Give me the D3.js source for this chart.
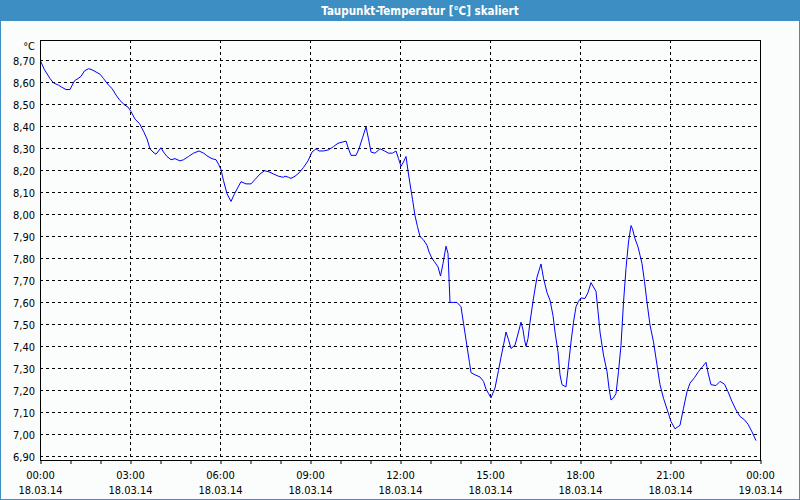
<!DOCTYPE html>
<html>
<head>
<meta charset="utf-8">
<script src="https://cdn.jsdelivr.net/npm/d3@7"></script>
<style>
  body { margin: 0; background: #fbfdfc; }
  text { font-family: "DejaVu Sans Condensed", "DejaVu Sans", sans-serif; }
</style>
</head>
<body>
<div id="chart"></div>
<script>
/* chart data, minutes since 00:00 on 18.03.14 and dew point in °C */
const minutes = [
    0, 8, 19, 26, 36, 43, 51, 59, 68, 75, 81, 88, 96, 103, 111, 119, 126, 136, 143, 151,
    159, 168, 175, 181, 189, 198, 206, 213, 219, 225, 231, 236, 241, 246, 253, 261, 269, 279, 286, 296,
    306, 317, 326, 335, 343, 351, 356, 361, 366, 373, 381, 388, 395, 401, 411, 421, 429, 439, 448, 457,
    466, 476, 486, 489, 496, 501, 509, 517, 526, 535, 543, 551, 557, 566, 576, 586, 595, 603, 611, 616,
    621, 631, 637, 644, 651, 656, 661, 669, 679, 688, 696, 704, 711, 716, 721, 726, 731, 735, 739, 744,
    749, 754, 759, 766, 773, 777, 783, 788, 795, 800, 805, 811, 815, 819, 826, 833, 841, 846, 853, 858,
    861, 869, 879, 886, 891, 896, 901, 909, 916, 921, 926, 931, 936, 941, 949, 956, 961, 965, 968, 971,
    975, 979, 986, 993, 1001, 1006, 1013, 1019, 1025, 1029, 1035, 1039, 1043, 1051, 1056, 1061, 1066, 1071, 1076, 1081,
    1089, 1095, 1101, 1106, 1111, 1115, 1119, 1126, 1133, 1137, 1141, 1146, 1151, 1156, 1161, 1166, 1171, 1176, 1181, 1184,
    1189, 1195, 1199, 1203, 1208, 1213, 1219, 1226, 1233, 1239, 1246, 1255, 1261, 1269, 1279, 1286, 1293, 1299, 1308, 1316,
    1324, 1331, 1336, 1341, 1351, 1359, 1368, 1375, 1383, 1391, 1399, 1408, 1415, 1423, 1431
];
const dewPoint = [
    8.70, 8.66, 8.62, 8.60, 8.59, 8.58, 8.57, 8.57, 8.61, 8.62, 8.63, 8.655, 8.665, 8.66, 8.65, 8.64, 8.62, 8.59, 8.575, 8.545,
    8.52, 8.50, 8.49, 8.47, 8.435, 8.415, 8.38, 8.345, 8.30, 8.285, 8.275, 8.29, 8.305, 8.285, 8.265, 8.25, 8.255, 8.245, 8.25, 8.265,
    8.28, 8.29, 8.28, 8.265, 8.255, 8.25, 8.23, 8.205, 8.155, 8.095, 8.06, 8.095, 8.125, 8.15, 8.14, 8.14, 8.16, 8.185, 8.20, 8.195,
    8.185, 8.175, 8.17, 8.175, 8.17, 8.165, 8.175, 8.19, 8.215, 8.245, 8.285, 8.30, 8.29, 8.29, 8.295, 8.31, 8.325, 8.33, 8.335, 8.30,
    8.27, 8.27, 8.30, 8.35, 8.40, 8.345, 8.285, 8.28, 8.30, 8.29, 8.28, 8.28, 8.29, 8.255, 8.22, 8.24, 8.265, 8.20, 8.14, 8.07,
    7.995, 7.945, 7.90, 7.885, 7.86, 7.83, 7.80, 7.785, 7.762, 7.72, 7.777, 7.856, 7.823, 7.60, 7.60, 7.60, 7.58, 7.505, 7.40, 7.325,
    7.28, 7.27, 7.26, 7.24, 7.205, 7.185, 7.165, 7.21, 7.29, 7.35, 7.405, 7.465, 7.43, 7.39, 7.405, 7.465, 7.51, 7.475, 7.43, 7.40,
    7.435, 7.51, 7.62, 7.715, 7.775, 7.71, 7.645, 7.61, 7.54, 7.465, 7.375, 7.27, 7.225, 7.215, 7.315, 7.42, 7.51, 7.58, 7.605, 7.62,
    7.618, 7.645, 7.69, 7.67, 7.65, 7.56, 7.465, 7.36, 7.285, 7.21, 7.155, 7.165, 7.185, 7.285, 7.405, 7.60, 7.755, 7.875, 7.95, 7.935,
    7.89, 7.853, 7.815, 7.777, 7.695, 7.60, 7.497, 7.42, 7.315, 7.225, 7.163, 7.10, 7.057, 7.024, 7.04, 7.118, 7.193, 7.232, 7.257, 7.285,
    7.307, 7.327, 7.27, 7.225, 7.221, 7.24, 7.227, 7.193, 7.148, 7.11, 7.08, 7.065, 7.045, 7.01, 6.97
];

/* axis labels */
const yTicks = [6.9, 7.0, 7.1, 7.2, 7.3, 7.4, 7.5, 7.6, 7.7, 7.8, 7.9, 8.0, 8.1, 8.2, 8.3, 8.4, 8.5, 8.6, 8.7];
const xTickHours = [0, 3, 6, 9, 12, 15, 18, 21, 24];
const xTickTimes = ["00:00", "03:00", "06:00", "09:00", "12:00", "15:00", "18:00", "21:00", "00:00"];
const xTickDates = ["18.03.14", "18.03.14", "18.03.14", "18.03.14", "18.03.14", "18.03.14", "18.03.14", "18.03.14", "19.03.14"];
const hourTicks = [0, 1, 2, 3, 4, 5, 6, 7, 8, 9, 10, 11, 12, 13, 14, 15, 16, 17, 18, 19, 20, 21, 22, 23, 24];

const title = "Taupunkt-Temperatur [°C] skaliert";

/* svg size */
const width = 800;
const height = 500;
const plot = { left: 40, right: 760, top: 40, bottom: 460 };

const x = d3.scaleLinear()
    .domain([0, 1440])
    .range([plot.left + 0.5, plot.right + 0.5]);

const y = d3.scaleLinear()
    .domain([6.8795, 8.7934])
    .range([plot.bottom + 0.5, plot.top + 0.5]);

/* snap to crisp pixel lines */
const px = v => Math.round(v - 0.5) + 0.5;
const comma = d3.format(".2f");

let svg = d3.select("#chart").append("svg")
    .attr("width", width)
    .attr("height", height);

svg.append("rect")
    .attr("width", width)
    .attr("height", height)
    .attr("fill", "#fbfdfc");

// title bar
svg.append("rect")
    .attr("width", width)
    .attr("height", 21)
    .attr("fill", "#3d8fc3");

svg.append("rect")
    .attr("x", 0.5)
    .attr("y", 0.5)
    .attr("width", width - 1)
    .attr("height", height - 1)
    .attr("fill", "none")
    .attr("stroke", "#3d8fc3");

svg.append("text")
    .attr("x", 420)
    .attr("y", 14.5)
    .attr("text-anchor", "middle")
    .attr("fill", "#ffffff")
    .style("font-size", "11.5px")
    .style("font-weight", "bold")
    .text(title);

// grid
svg.append("g").selectAll("line")
    .data(yTicks)
    .join("line")
    .attr("x1", plot.left)
    .attr("x2", plot.right)
    .attr("y1", d => px(y(d)))
    .attr("y2", d => px(y(d)))
    .attr("stroke", "#000")
    .attr("stroke-dasharray", "3,3");

svg.append("g").selectAll("line")
    .data(xTickHours.slice(1, -1))
    .join("line")
    .attr("x1", d => px(x(d * 60)))
    .attr("x2", d => px(x(d * 60)))
    .attr("y1", plot.top)
    .attr("y2", plot.bottom)
    .attr("stroke", "#000")
    .attr("stroke-dasharray", "3,3");

// hour ticks under the frame
const xAxis = d3.axisBottom(x)
    .tickValues(hourTicks.map(h => h * 60))
    .tickSize(4)
    .tickFormat("")
    .tickSizeOuter(0);

let xG = svg.append("g")
    .attr("transform", `translate(0,${plot.bottom})`)
    .call(xAxis);
xG.select(".domain").remove();
xG.selectAll(".tick line").attr("stroke", "#000");

// y labels
svg.append("g").selectAll("text")
    .data(yTicks)
    .join("text")
    .attr("x", 35)
    .attr("y", d => px(y(d)) + 4)
    .attr("text-anchor", "end")
    .attr("fill", "#000")
    .style("font-size", "11px")
    .text(d => comma(d).replace(".", ","));

svg.append("text")
    .attr("x", 35)
    .attr("y", 50)
    .attr("text-anchor", "end")
    .style("font-size", "11px")
    .text("°C");

// x labels, two lines
let xLabels = svg.append("g").selectAll("g")
    .data(xTickHours)
    .join("g")
    .attr("transform", d => `translate(${px(x(d * 60))},0)`);

xLabels.append("text")
    .attr("y", 479)
    .attr("text-anchor", "middle")
    .style("font-size", "11px")
    .text((d, i) => xTickTimes[i]);

xLabels.append("text")
    .attr("y", 494)
    .attr("text-anchor", "middle")
    .style("font-size", "11px")
    .text((d, i) => xTickDates[i]);

// data line
const line = d3.line()
    .x((d, i) => x(minutes[i]))
    .y(d => y(d));

svg.append("path")
    .datum(dewPoint)
    .attr("d", line)
    .attr("fill", "none")
    .attr("stroke", "#0000ff")
    .attr("stroke-width", 1);

// frame
svg.append("rect")
    .attr("x", plot.left + 0.5)
    .attr("y", plot.top + 0.5)
    .attr("width", plot.right - plot.left)
    .attr("height", plot.bottom - plot.top)
    .attr("fill", "none")
    .attr("stroke", "#000");
</script>
</body>
</html>
